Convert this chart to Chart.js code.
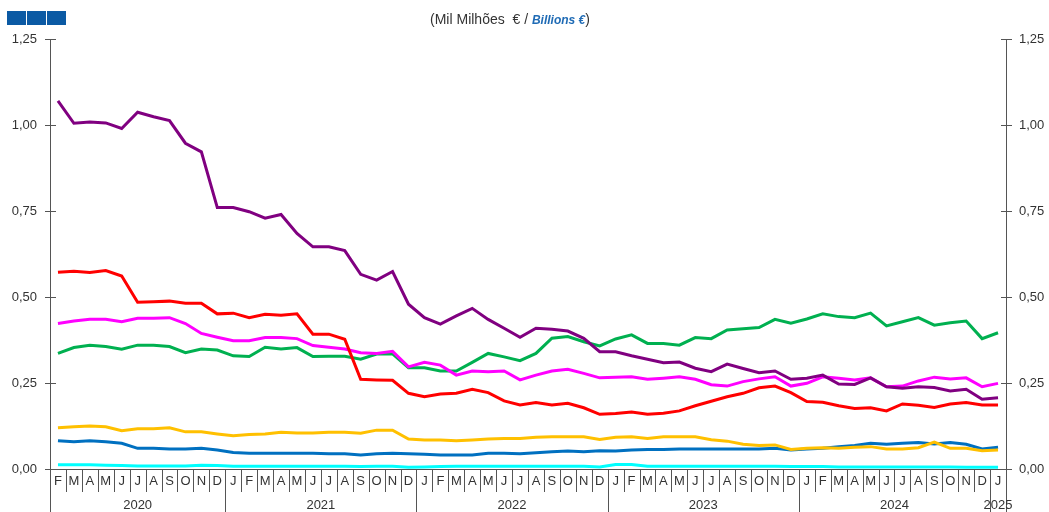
<!DOCTYPE html>
<html>
<head>
<meta charset="utf-8">
<script src="https://cdn.jsdelivr.net/npm/chart.js@4"></script>
<style>
  body { margin: 0; background: #fff; font-family: "Liberation Sans", Arial, sans-serif; }
  #wrap { position: relative; width: 1049px; height: 512px; }
  .logo { position: absolute; top: 11px; width: 19px; height: 14px; background: #0b5aa4; }
  #sub { position: absolute; top: 11px; left: 0; width: 1020px; text-align: center; font-size: 14px; color: #333; white-space: pre; }
  #sub b { color: #1f6bb5; font-style: italic; font-size: 12px; }
</style>
</head>
<body>
<div id="wrap">
  <div class="logo" style="left:7px"></div>
  <div class="logo" style="left:27px"></div>
  <div class="logo" style="left:47px"></div>
  <div id="sub">(Mil Milhões  € / <b>Billions €</b>)</div>
  <canvas id="grafico" width="1049" height="512"></canvas>
</div>
<script>
// meses (fev 2020 a jan 2025)
const meses = ["F","M","A","M","J","J","A","S","O","N","D",
  "J","F","M","A","M","J","J","A","S","O","N","D",
  "J","F","M","A","M","J","J","A","S","O","N","D",
  "J","F","M","A","M","J","J","A","S","O","N","D",
  "J","F","M","A","M","J","J","A","S","O","N","D",
  "J"];
const anos = ["2020", "2021", "2022", "2023", "2024", "2025"];
const mesesPorAno = [11, 12, 12, 12, 12, 1];
const ticksY = [0, 0.25, 0.5, 0.75, 1, 1.25];

const roxo = [1.070, 1.005, 1.009, 1.006, 0.990, 1.037, 1.024, 1.013, 0.947, 0.922, 0.760,
  0.760, 0.748, 0.729, 0.740, 0.685, 0.646, 0.646, 0.635, 0.566, 0.549, 0.574, 0.479,
  0.440, 0.421, 0.445, 0.467, 0.435, 0.409, 0.383, 0.409, 0.406, 0.401, 0.380, 0.341,
  0.341, 0.329, 0.319, 0.309, 0.311, 0.293, 0.283, 0.305, 0.292, 0.280, 0.285, 0.261,
  0.264, 0.273, 0.247, 0.246, 0.265, 0.239, 0.235, 0.239, 0.237, 0.227, 0.232, 0.203,
  0.207];
const vermelho = [0.572, 0.575, 0.571, 0.577, 0.561, 0.485, 0.486, 0.488, 0.482, 0.482, 0.451,
  0.453, 0.440, 0.450, 0.447, 0.451, 0.392, 0.392, 0.377, 0.261, 0.259, 0.258, 0.220,
  0.210, 0.218, 0.220, 0.232, 0.222, 0.198, 0.186, 0.193, 0.186, 0.191, 0.178, 0.159,
  0.161, 0.166, 0.159, 0.162, 0.169, 0.184, 0.197, 0.210, 0.220, 0.236, 0.241, 0.222,
  0.196, 0.194, 0.184, 0.176, 0.178, 0.169, 0.189, 0.185, 0.179, 0.189, 0.193, 0.186,
  0.186];
const magenta = [0.423, 0.430, 0.435, 0.435, 0.428, 0.438, 0.438, 0.440, 0.423, 0.394, 0.383,
  0.373, 0.373, 0.382, 0.382, 0.379, 0.359, 0.354, 0.349, 0.338, 0.336, 0.342, 0.297,
  0.310, 0.302, 0.273, 0.285, 0.283, 0.285, 0.259, 0.273, 0.285, 0.290, 0.278, 0.265,
  0.267, 0.268, 0.261, 0.264, 0.268, 0.261, 0.245, 0.241, 0.254, 0.262, 0.268, 0.241,
  0.249, 0.268, 0.264, 0.259, 0.265, 0.239, 0.241, 0.256, 0.267, 0.262, 0.265, 0.239,
  0.249];
const verde = [0.336, 0.353, 0.360, 0.356, 0.348, 0.360, 0.360, 0.356, 0.338, 0.349, 0.346,
  0.329, 0.327, 0.354, 0.349, 0.353, 0.327, 0.328, 0.328, 0.319, 0.334, 0.335, 0.294,
  0.294, 0.285, 0.285, 0.310, 0.336, 0.326, 0.315, 0.336, 0.380, 0.385, 0.370, 0.358,
  0.378, 0.390, 0.365, 0.365, 0.360, 0.382, 0.379, 0.404, 0.408, 0.411, 0.435, 0.424,
  0.436, 0.451, 0.443, 0.440, 0.453, 0.416, 0.428, 0.440, 0.418, 0.425, 0.430, 0.379,
  0.396];
const amarelo = [0.120, 0.123, 0.125, 0.123, 0.111, 0.117, 0.117, 0.120, 0.108, 0.108, 0.102,
  0.097, 0.100, 0.102, 0.107, 0.105, 0.105, 0.107, 0.107, 0.104, 0.113, 0.113, 0.087,
  0.084, 0.084, 0.082, 0.084, 0.087, 0.089, 0.089, 0.092, 0.094, 0.094, 0.094, 0.086,
  0.092, 0.094, 0.089, 0.094, 0.094, 0.094, 0.085, 0.081, 0.072, 0.068, 0.070, 0.057,
  0.060, 0.062, 0.060, 0.063, 0.065, 0.058, 0.058, 0.062, 0.078, 0.060, 0.060, 0.053,
  0.055];
const azul = [0.082, 0.079, 0.082, 0.079, 0.075, 0.060, 0.060, 0.058, 0.058, 0.060, 0.055,
  0.048, 0.046, 0.046, 0.046, 0.046, 0.046, 0.044, 0.044, 0.041, 0.044, 0.046, 0.044,
  0.043, 0.041, 0.041, 0.041, 0.046, 0.046, 0.044, 0.047, 0.050, 0.052, 0.050, 0.053,
  0.052, 0.055, 0.057, 0.057, 0.058, 0.058, 0.058, 0.058, 0.058, 0.058, 0.060, 0.055,
  0.058, 0.060, 0.065, 0.068, 0.075, 0.072, 0.075, 0.077, 0.073, 0.077, 0.072, 0.058,
  0.063];
const ciano = [0.012, 0.012, 0.012, 0.011, 0.010, 0.009, 0.009, 0.009, 0.009, 0.011, 0.010,
  0.008, 0.008, 0.008, 0.008, 0.008, 0.008, 0.008, 0.008, 0.007, 0.008, 0.008, 0.005,
  0.006, 0.007, 0.008, 0.008, 0.008, 0.008, 0.008, 0.008, 0.008, 0.008, 0.008, 0.006,
  0.013, 0.013, 0.008, 0.008, 0.008, 0.008, 0.008, 0.008, 0.008, 0.008, 0.008, 0.007,
  0.007, 0.007, 0.006, 0.006, 0.006, 0.006, 0.006, 0.006, 0.006, 0.006, 0.005, 0.005,
  0.005];

const corTexto = "#333";
const corEixo = "#555";
const fonte = { family: "'Liberation Sans', Arial, sans-serif", size: 13 };

// eixos desenhados à mão (linhas, tracinhos, meses e anos)
const eixosPlugin = {
  id: "eixos",
  beforeDatasetsDraw(chart) {
    const ctx = chart.ctx;
    const x = chart.scales.x;
    const y = chart.scales.y;
    const larg = (x.right - x.left) / meses.length;
    const base = y.bottom;
    ctx.save();
    ctx.strokeStyle = corEixo;
    ctx.lineWidth = 1;
    ctx.beginPath();
    // eixos verticais
    ctx.moveTo(x.left + 0.5, y.top); ctx.lineTo(x.left + 0.5, 512);
    ctx.moveTo(x.right + 0.5, y.top); ctx.lineTo(x.right + 0.5, 512);
    // eixo horizontal
    ctx.moveTo(x.left - 5, base + 0.5); ctx.lineTo(x.right + 5, base + 0.5);
    // tracinhos
    ticksY.forEach(v => {
      const py = Math.round(y.getPixelForValue(v)) + 0.5;
      ctx.moveTo(x.left - 5, py); ctx.lineTo(x.left + 6, py);
      ctx.moveTo(x.right - 5, py); ctx.lineTo(x.right + 6, py);
    });
    // separadores de meses
    for (let i = 1; i < meses.length; i++) {
      const px = Math.round(x.left + i * larg) + 0.5;
      ctx.moveTo(px, base); ctx.lineTo(px, base + 23);
    }
    // separadores de anos
    let acum = 0;
    mesesPorAno.forEach(n => {
      acum += n;
      const px = Math.round(x.left + acum * larg) + 0.5;
      ctx.moveTo(px, base); ctx.lineTo(px, 512);
    });
    ctx.stroke();

    ctx.fillStyle = corTexto;
    ctx.font = "13px 'Liberation Sans', Arial, sans-serif";
    ctx.textAlign = "center";
    ctx.textBaseline = "middle";
    meses.forEach((m, i) => {
      ctx.fillText(m, x.left + (i + 0.5) * larg, base + 12);
    });
    acum = 0;
    anos.forEach((a, k) => {
      const meio = x.left + (acum + mesesPorAno[k] / 2) * larg;
      ctx.fillText(a, meio, base + 36);
      acum += mesesPorAno[k];
    });
    ctx.restore();
  }
};

const eixoY = (pos, largura) => ({
  position: pos,
  min: 0,
  max: 1.25,
  ticks: {
    stepSize: 0.25,
    padding: 13,
    color: corTexto,
    font: fonte,
    callback: v => v.toFixed(2).replace(".", ",")
  },
  grid: { display: false, drawTicks: false },
  border: { display: false },
  afterFit: s => { s.width = largura; }
});

new Chart(document.getElementById("grafico"), {
  type: "line",
  data: {
    labels: meses,
    datasets: [
      { label: "vermelho", data: vermelho, borderColor: "#ff0000" },
      { label: "amarelo", data: amarelo, borderColor: "#ffc000" },
      { label: "roxo", data: roxo, borderColor: "#800080" },
      { label: "magenta", data: magenta, borderColor: "#ff00ff" },
      { label: "verde", data: verde, borderColor: "#00b050" },
      { label: "azul", data: azul, borderColor: "#0070c0" },
      { label: "ciano", data: ciano, borderColor: "#00ffff" }
    ]
  },
  options: {
    responsive: false,
    animation: false,
    layout: { padding: { top: 39 } },
    elements: {
      point: { radius: 0 },
      line: { borderWidth: 3, tension: 0, fill: false }
    },
    plugins: { legend: { display: false }, tooltip: { enabled: false } },
    scales: {
      x: {
        offset: true,
        grid: { display: false },
        border: { display: false },
        ticks: { display: false },
        afterFit: s => { s.height = 43; }
      },
      y: eixoY("left", 50),
      y2: eixoY("right", 43)
    }
  },
  plugins: [eixosPlugin]
});
</script>
</body>
</html>
